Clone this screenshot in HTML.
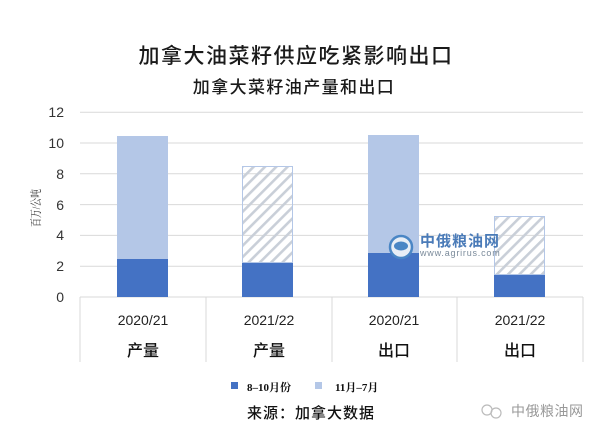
<!DOCTYPE html>
<html><head><meta charset="utf-8">
<style>
html,body{margin:0;padding:0;background:#fff;}
svg{display:block;}
text{font-family:"Liberation Sans","Noto Sans CJK SC",sans-serif;}
</style></head>
<body>
<svg width="603" height="436" viewBox="0 0 603 436" xmlns="http://www.w3.org/2000/svg">
<defs>
<pattern id="hatch" patternUnits="userSpaceOnUse" width="8" height="8" patternTransform="rotate(45)">
<rect x="0" y="0" width="2.6" height="8" fill="#c9cfd8"/>
</pattern>
</defs>
<rect width="603" height="436" fill="#fff"/>
<!-- titles -->
<text x="296" y="63" font-size="21" text-anchor="middle" fill="#1a1a1a" letter-spacing="1.5" font-weight="500" style="font-family:'Noto Sans CJK SC',sans-serif">加拿大油菜籽供应吃紧影响出口</text>
<text x="294" y="93" font-size="17" text-anchor="middle" fill="#1a1a1a" letter-spacing="1.4" font-weight="500" style="font-family:'Noto Sans CJK SC',sans-serif">加拿大菜籽油产量和出口</text>
<!-- gridlines -->
<g stroke="#d9d9d9" stroke-width="1">
<line x1="80" y1="112.2" x2="583" y2="112.2"/>
<line x1="80" y1="143" x2="583" y2="143"/>
<line x1="80" y1="173.8" x2="583" y2="173.8"/>
<line x1="80" y1="204.6" x2="583" y2="204.6"/>
<line x1="80" y1="235.4" x2="583" y2="235.4"/>
<line x1="80" y1="266.2" x2="583" y2="266.2"/>
<line x1="80" y1="297" x2="583" y2="297"/>
<line x1="80" y1="297" x2="80" y2="362"/>
<line x1="206" y1="297" x2="206" y2="362"/>
<line x1="332" y1="297" x2="332" y2="362"/>
<line x1="457" y1="297" x2="457" y2="362"/>
<line x1="583" y1="297" x2="583" y2="362"/>
</g>
<!-- y labels -->
<g font-size="14" fill="#333" text-anchor="end">
<text x="64" y="117">12</text>
<text x="64" y="148">10</text>
<text x="64" y="179">8</text>
<text x="64" y="210">6</text>
<text x="64" y="240">4</text>
<text x="64" y="271">2</text>
<text x="64" y="302">0</text>
</g>
<text transform="translate(40,208) rotate(-90)" font-size="12" text-anchor="middle" fill="#333" textLength="38" lengthAdjust="spacingAndGlyphs" style="font-family:'Liberation Serif','Noto Serif CJK SC',serif">百万/公吨</text>
<!-- bars -->
<rect x="117" y="136" width="51" height="123" fill="#b4c7e7"/>
<rect x="117" y="259" width="51" height="38" fill="#4472c4"/>
<rect x="242.5" y="166.5" width="50" height="96" fill="url(#hatch)" stroke="#b4c7e7" stroke-width="1"/>
<rect x="242" y="263" width="51" height="34" fill="#4472c4"/>
<rect x="368" y="135" width="51" height="118" fill="#b4c7e7"/>
<rect x="368" y="253" width="51" height="44" fill="#4472c4"/>
<rect x="494.5" y="216.5" width="50" height="58" fill="url(#hatch)" stroke="#b4c7e7" stroke-width="1"/>
<rect x="494" y="275" width="51" height="22" fill="#4472c4"/>
<!-- watermark center -->
<circle cx="401" cy="247" r="11" fill="#e8eef6" stroke="#4a86c5" stroke-width="2.5"/>
<ellipse cx="401" cy="246" rx="7" ry="4.5" fill="#4a86c5"/>
<text x="420" y="246" font-size="15" font-weight="bold" fill="#4a7bb8" letter-spacing="1" style="font-family:'Noto Sans CJK SC',sans-serif">中俄粮油网</text>
<text x="420" y="256" font-size="9" fill="#7a8a9a" letter-spacing="0.8">www.agrirus.com</text>
<!-- category labels -->
<g font-size="14" fill="#222" text-anchor="middle">
<text x="143" y="325">2020/21</text>
<text x="269" y="325">2021/22</text>
<text x="394" y="325">2020/21</text>
<text x="520" y="325">2021/22</text>
</g>
<g font-size="16" fill="#111" text-anchor="middle" font-weight="500" style="font-family:'Noto Sans CJK SC',sans-serif">
<text x="143" y="356">产量</text>
<text x="269" y="356">产量</text>
<text x="394" y="356">出口</text>
<text x="520" y="356">出口</text>
</g>
<!-- legend -->
<rect x="231" y="382" width="7" height="7" fill="#4472c4"/>
<text x="247" y="391" font-size="11" font-weight="bold" fill="#111" style="font-family:'Liberation Serif','Noto Serif CJK SC',serif">8–10月份</text>
<rect x="315" y="382" width="7" height="7" fill="#b4c7e7"/>
<text x="335" y="391" font-size="11" font-weight="bold" fill="#111" style="font-family:'Liberation Serif','Noto Serif CJK SC',serif">11月–7月</text>
<text x="247" y="418" font-size="15" fill="#111" letter-spacing="1" font-weight="500" style="font-family:'Noto Sans CJK SC',sans-serif">来源：加拿大数据</text>
<!-- bottom watermark -->
<g fill="none" stroke="#bbb" stroke-width="1.2">
<circle cx="487" cy="410" r="5"/>
<circle cx="496" cy="413" r="5"/>
</g>
<text x="511" y="416" font-size="14" fill="#999" letter-spacing="0.5" style="font-family:'Noto Sans CJK SC',sans-serif">中俄粮油网</text>
</svg>
</body></html>
